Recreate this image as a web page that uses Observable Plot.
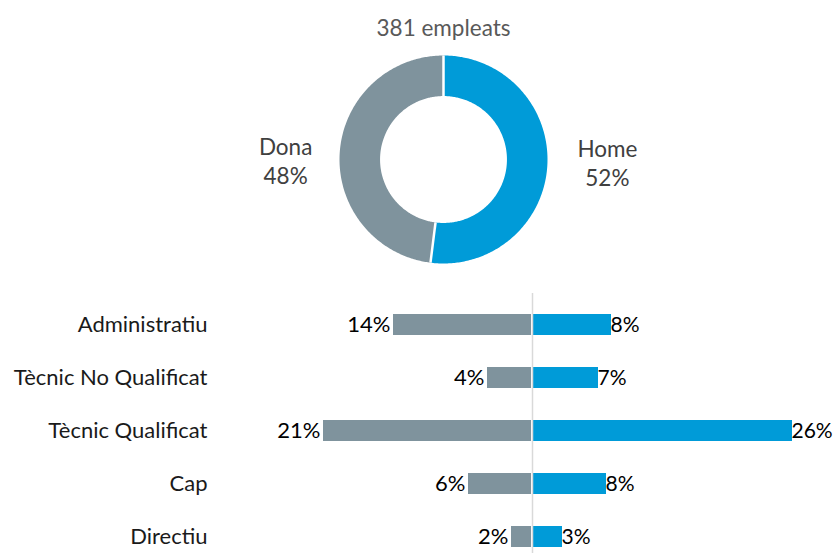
<!DOCTYPE html>
<html><head><meta charset="utf-8">
<script src="https://cdn.jsdelivr.net/npm/d3@7"></script>
<script src="https://cdn.jsdelivr.net/npm/@observablehq/plot@0.6"></script>
<style>
body{margin:0;background:#fff;font-family:Lato,sans-serif;}
#chart{width:833px;}
#chart svg{display:block;}
</style></head><body><div id="chart"></div>
<script>
// ---- data ----
const totalEmployees = 381;
const genders = ["Home", "Dona"];
const genderShares = [52, 48];
const genderColors = ["#009bd8", "#7f939d"];
const categories = ["Administratiu", "Tècnic No Qualificat", "Tècnic Qualificat", "Cap", "Directiu"];
const donaValues = [13.9, 4.5, 20.9, 6.4, 2.1];
const homeValues = [7.9, 6.6, 26.0, 7.4, 3.0];
const donaLabels = ["14%", "4%", "21%", "6%", "2%"];
const homeLabels = ["8%", "7%", "26%", "8%", "3%"];

// ---- donut ----
const pie = d3.pie().sort(null).value(d => d)(genderShares);
const outerR = 1, innerR = 0.61;
const ringPts = [];
pie.forEach((p, i) => {
  const n = 240;
  for (let k = 0; k <= n; k++) {
    const a = p.startAngle + (p.endAngle - p.startAngle) * k / n;
    ringPts.push({g: genders[i], x: outerR * Math.sin(a), y: outerR * Math.cos(a)});
  }
  for (let k = n; k >= 0; k--) {
    const a = p.startAngle + (p.endAngle - p.startAngle) * k / n;
    ringPts.push({g: genders[i], x: innerR * Math.sin(a), y: innerR * Math.cos(a)});
  }
});
const seps = pie.map(p => ({
  x1: innerR * Math.sin(p.startAngle), y1: innerR * Math.cos(p.startAngle),
  x2: outerR * Math.sin(p.startAngle), y2: outerR * Math.cos(p.startAngle)
}));
const labelPts = pie.map((p, i) => {
  const a = (p.startAngle + p.endAngle) / 2;
  return {text: `${genders[i]}\n${genderShares[i]}%`, x: 1.55 * Math.sin(a), y: 0.15 * Math.cos(a)};
});

const donut = Plot.plot({
  width: 833, height: 290,
  marginLeft: 0, marginRight: 0, marginTop: 0, marginBottom: 0,
  x: {domain: [-443 / 104, 390 / 104], axis: null},
  y: {domain: [-131 / 104, 159 / 104], axis: null},
  color: {domain: genders, range: genderColors},
  style: {fontFamily: "Lato, sans-serif", background: "#fff"},
  marks: [
    Plot.line(ringPts, {x: "x", y: "y", z: "g", fill: "g", stroke: "none", curve: "linear-closed"}),
    Plot.link(seps, {x1: "x1", y1: "y1", x2: "x2", y2: "y2", stroke: "white", strokeWidth: 2.5}),
    Plot.text(labelPts, {x: "x", y: "y", text: "text", fontSize: 22.5, lineHeight: 1.28, fill: "#404040", dx: 3, dy: 1.5}),
    Plot.text([`${totalEmployees} empleats`], {x: () => 0, frameAnchor: "top", lineAnchor: "middle", dy: 28, fontSize: 22.5, fill: "#595959"})
  ]
});

// ---- bars ----
const rows = categories.map((c, i) => ({cat: c, dona: donaValues[i], home: homeValues[i], dl: donaLabels[i], hl: homeLabels[i]}));

const bars = Plot.plot({
  width: 833, height: 263,
  marginLeft: 215, marginRight: 0, marginTop: 3, marginBottom: 0,
  x: {domain: [-31.7, 30.1], axis: null},
  y: {domain: categories, paddingInner: 0.607, paddingOuter: 0.233, align: 0.78, label: null, tickSize: 0, tickPadding: 8},
  style: {fontFamily: "Lato, sans-serif", fontSize: "22px", color: "#1a1a1a", background: "#fff"},
  marks: [
    Plot.barX(rows, {y: "cat", x1: d => -d.dona, x2: () => 0, fill: genderColors[1], insetRight: 1}),
    Plot.barX(rows, {y: "cat", x1: () => 0, x2: "home", fill: genderColors[0], insetLeft: 1}),
    Plot.ruleX([0], {stroke: "#d9d9d9", strokeWidth: 1.5}),
    Plot.text(rows, {x: d => -d.dona, y: "cat", text: "dl", textAnchor: "end", dx: -3, fontSize: 22, fill: "#000"}),
    Plot.text(rows, {x: "home", y: "cat", text: "hl", textAnchor: "start", dx: -1, fontSize: 21, fill: "#000"})
  ]
});

document.getElementById("chart").append(donut, bars);
</script>
</body></html>
